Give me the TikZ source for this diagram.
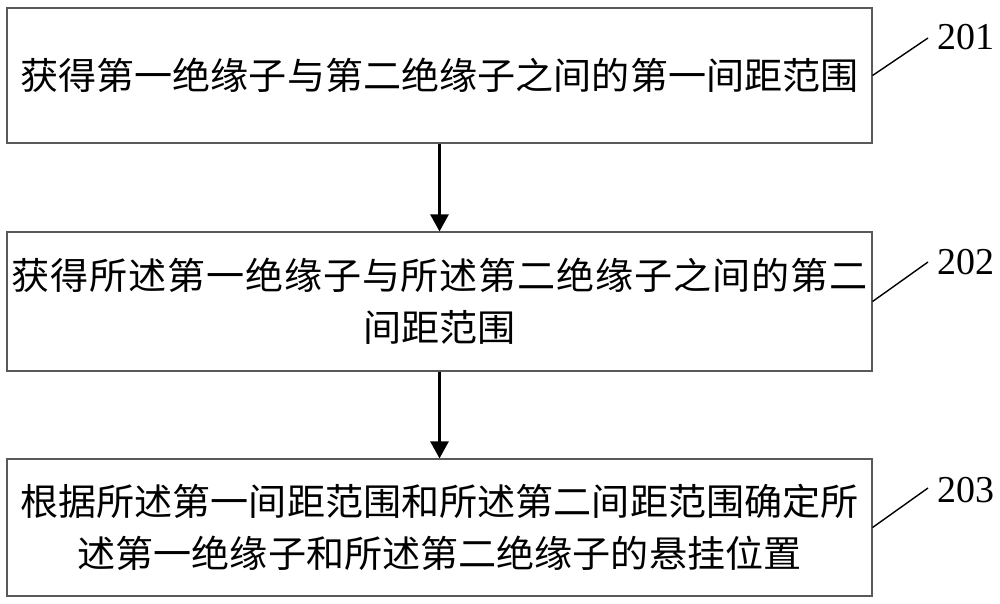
\documentclass[tikz,border=0pt]{standalone}
\usepackage{fontspec}
\setmainfont{Liberation Serif}
\newfontfamily\cjk[FakeStretch=1.03]{Noto Sans CJK SC}
\newfontfamily\cjkwide[FakeStretch=1.03,LetterSpace=2.2]{Noto Sans CJK SC}
\usetikzlibrary{arrows.meta}
\begin{document}
\begin{tikzpicture}[x=1pt,y=-1pt,
  stepbox/.style={draw=black!65,line width=1.1pt,minimum width=865pt,inner sep=0pt,
    align=center,font=\cjk\fontsize{37}{52}\selectfont},
  flow/.style={line width=2.6pt,-{Triangle[length=17pt,width=18pt]}},
  leader/.style={line width=1.4pt},
  numlab/.style={anchor=west,inner sep=0pt,font=\fontsize{38}{40}\selectfont}]
\useasboundingbox (0,0) rectangle (1000,604);
\node[stepbox,minimum height=135pt] (b1) at (439.5,75.5) {获得第一绝缘子与第二绝缘子之间的第一间距范围};
\node[stepbox,minimum height=139pt] (b2) at (439.5,301.5) {{\cjkwide 获得所述第一绝缘子与所述第二绝缘子之间的第二}\\间距范围};
\node[stepbox,minimum height=137pt] (b3) at (439.5,527.5) {根据所述第一间距范围和所述第二间距范围确定所\\述第一绝缘子和所述第二绝缘子的悬挂位置};
\draw[flow] (b1.south) -- (b2.north);
\draw[flow] (b2.south) -- (b3.north);
\node[numlab] (l1) at (937,37) {201};
\node[numlab] (l2) at (937,262) {202};
\node[numlab] (l3) at (937,490) {203};
\coordinate (e1) at (928,38);
\coordinate (e2) at (928,262);
\coordinate (e3) at (928,488);
\draw[leader] (b1.east) -- (e1);
\draw[leader] (b2.east) -- (e2);
\draw[leader] (b3.east) -- (e3);
\end{tikzpicture}
\end{document}
